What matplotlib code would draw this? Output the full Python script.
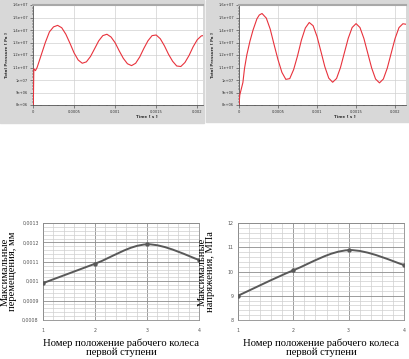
import numpy as np
import matplotlib.pyplot as plt
from matplotlib.path import Path
from matplotlib.patches import PathPatch, Rectangle
from matplotlib.ticker import MultipleLocator, FuncFormatter

# top left: total pressure history, Time [s] / Total Pressure [Pa]
t_left = [0.000004, 0.00001, 0.00003, 0.00005, 0.0001, 0.00015, 0.0002, 0.00025, 0.0003,
          0.00035, 0.0004, 0.00045, 0.0005, 0.00055, 0.0006, 0.00065, 0.0007,
          0.00075, 0.0008, 0.00085, 0.0009, 0.00095, 0.001, 0.00105, 0.0011,
          0.00115, 0.0012, 0.00125, 0.0013, 0.00135, 0.0014, 0.00145, 0.0015,
          0.00155, 0.0016, 0.00165, 0.0017, 0.00175, 0.0018, 0.00185, 0.0019,
          0.00195, 0.002, 0.00205, 0.00207]
p_left = [8.0e6, 1.09e7, 1.075e7, 1.10e7, 1.20e7, 1.30e7, 1.385e7, 1.425e7, 1.437e7,
          1.418e7, 1.366e7, 1.294e7, 1.217e7, 1.160e7, 1.134e7, 1.145e7, 1.188e7,
          1.250e7, 1.313e7, 1.355e7, 1.366e7, 1.344e7, 1.298e7, 1.233e7, 1.173e7,
          1.130e7, 1.115e7, 1.134e7, 1.185e7, 1.253e7, 1.314e7, 1.355e7, 1.360e7,
          1.330e7, 1.274e7, 1.206e7, 1.150e7, 1.112e7, 1.108e7, 1.140e7, 1.196e7,
          1.266e7, 1.322e7, 1.353e7, 1.355e7]

# top right: total pressure history
t_right = [0, 0.00001, 0.00003, 0.00005, 0.00007, 0.0001, 0.00014, 0.00018, 0.00023,
           0.00026, 0.000295, 0.00035, 0.0004, 0.00045, 0.0005, 0.00055, 0.0006,
           0.00065, 0.0007, 0.00075, 0.0008, 0.00085, 0.0009, 0.00095, 0.001,
           0.00105, 0.0011, 0.00115, 0.0012, 0.00125, 0.0013, 0.00135, 0.0014,
           0.00145, 0.0015, 0.00155, 0.0016, 0.00165, 0.0017, 0.00175, 0.0018,
           0.00185, 0.0019, 0.00195, 0.002, 0.00205, 0.0021, 0.00214]
p_right = [8.0e6, 8.8e6, 9.3e6, 9.8e6, 1.09e7, 1.20e7, 1.31e7, 1.40e7, 1.49e7,
           1.52e7, 1.532e7, 1.495e7, 1.407e7, 1.282e7, 1.162e7, 1.061e7, 1.005e7,
           1.011e7, 1.083e7, 1.193e7, 1.320e7, 1.416e7, 1.460e7, 1.434e7, 1.348e7,
           1.228e7, 1.106e7, 1.015e7, 9.82e6, 1.012e7, 1.099e7, 1.217e7, 1.334e7,
           1.420e7, 1.451e7, 1.420e7, 1.333e7, 1.214e7, 1.096e7, 1.008e7, 9.77e6,
           1.008e7, 1.095e7, 1.214e7, 1.332e7, 1.419e7, 1.450e7, 1.446e7]

# bottom: impeller position of first stage vs maxima
positions = [1, 2, 3, 4]
max_disp = [0.00099, 0.00109, 0.00119, 0.00111]
max_stress = [9.0, 10.05, 10.88, 10.27]

W, H = 409, 359
fig = plt.figure(figsize=(W / 100, H / 100), dpi=100)


def px(l, t, r, b):
    return [l / W, 1 - b / H, (r - l) / W, (b - t) / H]


# grey window backgrounds of the solver monitor screenshots
fig.patches.append(Rectangle((0, 1 - 123 / H), 204 / W, 123 / H,
                             transform=fig.transFigure, color="#d8d8d8", zorder=-5))
fig.patches.append(Rectangle((206 / W, 1 - 122 / H), 203 / W, 122 / H,
                             transform=fig.transFigure, color="#d8d8d8", zorder=-5))


def monitor(rect, t, p, xmax, label_x, ylab_x):
    ax = fig.add_axes(rect)
    ax.plot(t, p, color="#e8323c", lw=0.8, zorder=3)
    ax.set_xlim(0, xmax)
    ax.set_ylim(8e6, 1.6e7)
    ax.xaxis.set_major_locator(MultipleLocator(0.0005))
    ax.xaxis.set_minor_locator(MultipleLocator(0.0001))
    ax.yaxis.set_major_locator(MultipleLocator(1e6))
    ax.yaxis.set_minor_locator(MultipleLocator(2.5e5))
    fmt = FuncFormatter(lambda v, _: "%g" % v)
    ax.xaxis.set_major_formatter(fmt)
    ax.yaxis.set_major_formatter(fmt)
    ax.tick_params(labelsize=2.6, length=2, width=0.4, pad=1.5, colors="#333333")
    ax.tick_params(which="minor", length=1, width=0.3)
    ax.grid(color="#d0d0d0", lw=0.5)
    ax.spines["right"].set_visible(False)
    ax.spines["top"].set_color("#a8a8a8")
    ax.spines["top"].set_linewidth(1.5)
    for s in ("left", "bottom"):
        ax.spines[s].set_color("#555555")
        ax.spines[s].set_linewidth(0.6)
    ax.annotate("Time [ s ]", xy=(label_x, -0.115), xycoords=("data", "axes fraction"),
                ha="center", va="center", fontsize=2.9, fontweight="bold", color="#333333")
    fig.text(ylab_x, 1 - 55 / H, "Total Pressure [ Pa ]", rotation=90, ha="center",
             va="center", fontsize=2.9, fontweight="bold", color="#333333")
    return ax


monitor(px(33, 5, 203, 105), t_left, p_left, 0.00207, 0.00138, 7.5 / W)
monitor(px(239, 5, 406, 105), t_right, p_right, 0.00214, 0.00135, 212.5 / W)


def smooth_line(ax, x, y):
    # excel style smoothed line through the points (cubic bezier segments)
    pts = np.column_stack([x, y]).astype(float)
    ext = np.vstack([pts[0], pts, pts[-1]])
    verts = [pts[0]]
    codes = [Path.MOVETO]
    for i in range(len(pts) - 1):
        p0, p1, p2, p3 = ext[i], ext[i + 1], ext[i + 2], ext[i + 3]
        verts += [p1 + (p2 - p0) / 6, p2 - (p3 - p1) / 6, p2]
        codes += [Path.CURVE4] * 3
    ax.add_patch(PathPatch(Path(verts, codes), fill=False, color="#595959", lw=1.4,
                           zorder=3))
    ax.plot(x, y, "o", color="#595959", ms=2.2, zorder=4)


serif = "Liberation Serif"


def excel_chart(rect, y, ylim, major, ylabel, ylab_pos):
    ax = fig.add_axes(rect)
    smooth_line(ax, positions, y)
    ax.set_xlim(1, 4)
    ax.set_ylim(*ylim)
    ax.xaxis.set_major_locator(MultipleLocator(1))
    ax.xaxis.set_minor_locator(MultipleLocator(0.2))
    ax.yaxis.set_major_locator(MultipleLocator(major))
    ax.yaxis.set_minor_locator(MultipleLocator(major / 5))
    ax.yaxis.set_major_formatter(FuncFormatter(lambda v, _: ("%g" % v).replace(".", ",")))
    ax.grid(which="major", color="#8c8c8c", lw=0.6)
    ax.grid(which="minor", color="#cfcfcf", lw=0.5)
    ax.tick_params(which="both", length=0, labelsize=3.4, colors="#555555")
    ax.tick_params(axis="x", pad=6)
    ax.tick_params(axis="y", pad=3)
    for s in ax.spines.values():
        s.set_color("#8c8c8c")
        s.set_linewidth(0.6)
    ax.set_xlabel("Номер положение рабочего колеса\nпервой ступени", family=serif,
                  fontsize=7.7, linespacing=0.85, labelpad=4)
    ax.set_ylabel(ylabel, family=serif, fontsize=7.6, linespacing=0.85)
    ax.yaxis.set_label_coords(ylab_pos, 0.5)
    return ax


excel_chart(px(43, 223, 199, 320), max_disp, (0.0008, 0.0013), 0.0001,
            "Максимальные\nперемещения, мм", -0.165)
excel_chart(px(238, 223, 404, 320), max_stress, (8, 12), 1,
            "Максимальные\nнапряжения, МПа", -0.14)

fig.savefig("out.png", dpi=100)
